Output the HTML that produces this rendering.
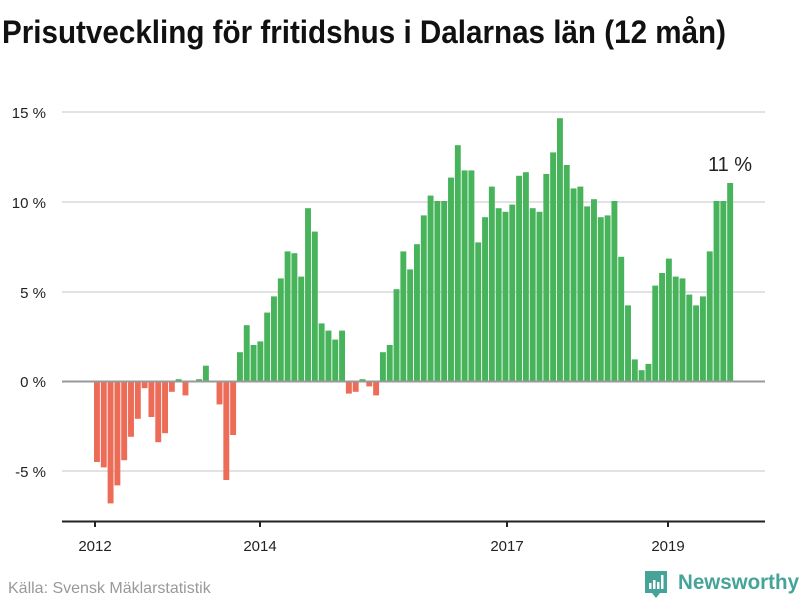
<!DOCTYPE html>
<html><head><meta charset="utf-8"><style>
html,body{margin:0;padding:0;background:#fff;width:800px;height:600px;overflow:hidden}
svg{display:block}
</style></head><body>
<svg id="s" width="800" height="600" xmlns="http://www.w3.org/2000/svg" font-family="Liberation Sans, sans-serif">
<text x="2" y="43" font-size="32" font-weight="bold" fill="#111" textLength="724" lengthAdjust="spacingAndGlyphs">Prisutveckling för fritidshus i Dalarnas län (12 mån)</text>
<g stroke="#e2e2e2" stroke-width="2">
<line x1="62" x2="765" y1="112" y2="112"/>
<line x1="62" x2="765" y1="202" y2="202"/>
<line x1="62" x2="765" y1="292" y2="292"/>
<line x1="62" x2="765" y1="471" y2="471"/>
</g>
<g font-size="15" fill="#222" text-anchor="end">
<text x="46" y="118">15 %</text>
<text x="46" y="208">10 %</text>
<text x="46" y="298">5 %</text>
<text x="46" y="387">0 %</text>
<text x="46" y="477">-5 %</text>
</g>
<g id="bars"></g>
<line x1="62" x2="765" y1="381.5" y2="381.5" stroke="#999" stroke-width="2"/>
<line x1="62" x2="765" y1="521.5" y2="521.5" stroke="#222" stroke-width="2"/>
<g stroke="#222" stroke-width="2">
<line x1="95" x2="95" y1="521" y2="527"/>
<line x1="260" x2="260" y1="521" y2="527"/>
<line x1="507" x2="507" y1="521" y2="527"/>
<line x1="668" x2="668" y1="521" y2="527"/>
</g>
<g font-size="15" fill="#222" text-anchor="middle">
<text x="95" y="551">2012</text>
<text x="260" y="551">2014</text>
<text x="507" y="551">2017</text>
<text x="668" y="551">2019</text>
</g>
<text x="730" y="171" font-size="20" fill="#222" text-anchor="middle">11 %</text>
<text x="8" y="593" font-size="16" fill="#999">Källa: Svensk Mäklarstatistik</text>
<path d="M645 571 h22 v22 h-7 l-4 5 l-4 -5 h-7 z" fill="#45a398"/>
<g fill="#fff"><rect x="649" y="583" width="2.5" height="6"/><rect x="653" y="580" width="2.5" height="9"/><rect x="657" y="582" width="2.5" height="7"/><rect x="661" y="575" width="2.5" height="14"/></g>
<text x="678" y="589" font-size="21" font-weight="bold" fill="#45a398" textLength="121" lengthAdjust="spacingAndGlyphs">Newsworthy</text>
</svg>
<script>
var v=[-4.5,-4.8,-6.8,-5.8,-4.4,-3.1,-2.1,-0.4,-2.0,-3.4,-2.9,-0.6,0.1,-0.8,0,0.1,0.85,0,-1.3,-5.5,-3.0,1.6,3.1,2.0,2.2,3.8,4.7,5.7,7.2,7.1,5.8,9.6,8.3,3.2,2.8,2.3,2.8,-0.7,-0.6,0.1,-0.3,-0.8,1.6,2.0,5.1,7.2,6.2,7.6,9.2,10.3,10.0,10.0,11.3,13.1,11.7,11.7,7.7,9.1,10.8,9.6,9.4,9.8,11.4,11.6,9.6,9.4,11.5,12.7,14.6,12.0,10.7,10.8,9.7,10.1,9.1,9.2,10.0,6.9,4.2,1.2,0.6,0.95,5.3,6.0,6.8,5.8,5.7,4.8,4.2,4.7,7.2,10.0,10.0,11.0];
var g=document.getElementById('bars'),p=640/v.length,h='';
for(var i=0;i<v.length;i++){var x=94+i*p,y=v[i]>=0?381-v[i]*18:381,hh=Math.abs(v[i])*18;
h+='<rect x="'+x.toFixed(2)+'" y="'+y.toFixed(2)+'" width="'+(p-0.9).toFixed(2)+'" height="'+hh.toFixed(2)+'" fill="'+(v[i]>=0?'#47b35a':'#ec6c58')+'"/>';}
g.innerHTML=h;
</script>
</body></html>
